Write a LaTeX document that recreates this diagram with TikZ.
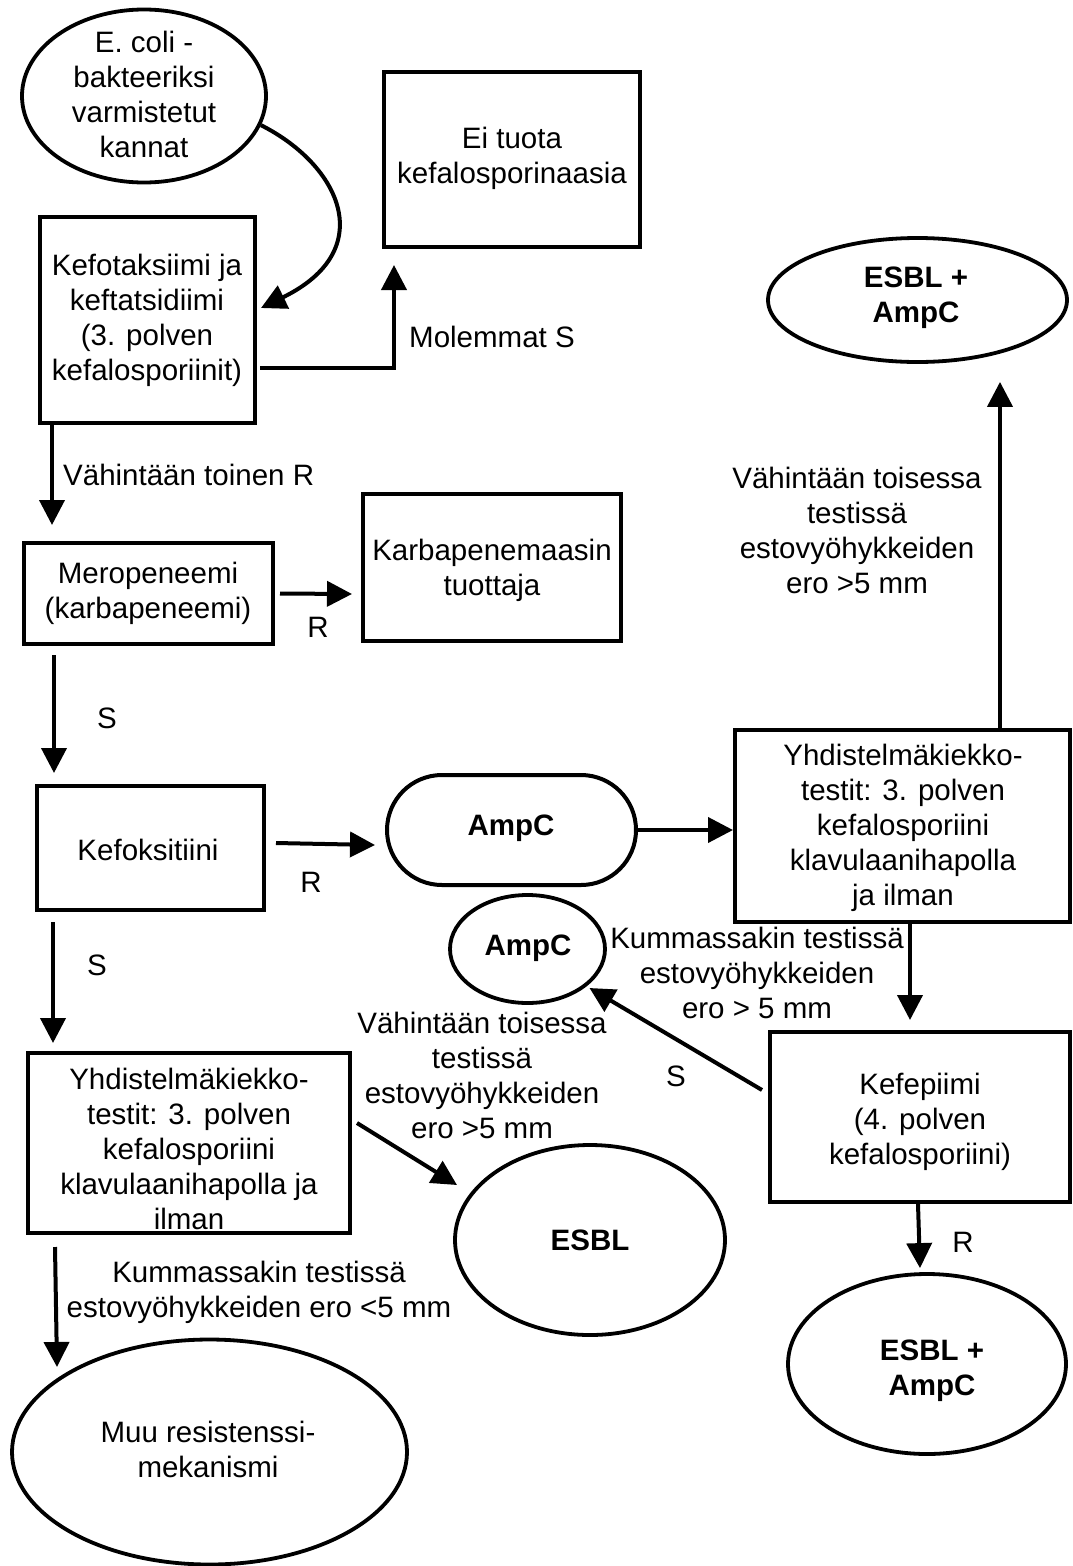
\documentclass[tikz,border=0pt]{standalone}
\usepackage{fontspec}
\setmainfont{Liberation Sans}
\usetikzlibrary{arrows.meta,shapes.geometric,calc}
\begin{document}
\begin{tikzpicture}[x=1pt,y=-1pt,
  box/.style={draw,line width=4pt,rectangle,inner sep=0pt},
  ell/.style={draw,line width=3.8pt,ellipse,inner sep=0pt},
  txt/.style={align=center,inner sep=0pt,font=\fontsize{29.5}{35}\selectfont},
  btxt/.style={align=center,inner sep=0pt,font=\fontsize{29.5}{35}\selectfont\bfseries},
  arr/.style={-{Triangle[length=25pt,width=25pt]},line width=4pt}]
\useasboundingbox (0,0) rectangle (1073,1566);
\fill[white] (0,0) rectangle (1073,1566);
% shapes
\node[ell,minimum width=244,minimum height=173] (ecoli) at (144,96) {};
\node[box,minimum width=215,minimum height=206] (kefo) at (147.5,320) {};
\node[box,minimum width=256,minimum height=175] (eituota) at (512,159.5) {};
\node[box,minimum width=249,minimum height=101] (mero) at (148.5,593.5) {};
\node[box,minimum width=258,minimum height=147] (karba) at (492,567.5) {};
\node[box,minimum width=227,minimum height=124] (kefox) at (150.5,848) {};
\node[box,rounded corners=55pt,minimum width=249,minimum height=110] (ampc1) at (511.5,830) {};
\node[box,minimum width=335,minimum height=192] (yhd2) at (902.5,826) {};
\node[ell,minimum width=299,minimum height=124] (esblampc1) at (917.5,300) {};
\node[ell,minimum width=155,minimum height=108] (ampc2) at (527.5,949) {};
\node[box,minimum width=300,minimum height=170] (kefe) at (920,1117) {};
\node[ell,minimum width=278,minimum height=180] (esblampc2) at (927,1364) {};
\node[box,minimum width=322,minimum height=180] (yhd1) at (189,1143) {};
\node[ell,minimum width=270,minimum height=190] (esbl) at (590,1240) {};
\node[ell,minimum width=395,minimum height=225] (muu) at (209.5,1452) {};
% texts
\node[txt] (ecoliT) at (144,94) {E. coli -\\bakteeriksi\\varmistetut\\kannat};
\node[txt] (kefoT) at (147,320) {Kefotaksiimi ja\\keftatsidiimi\\(3. polven\\kefalosporiinit)};
\node[txt] (eituotaT) at (512,158) {Ei tuota\\kefalosporinaasia};
\node[txt] (meroT) at (148,593) {Meropeneemi\\(karbapeneemi)};
\node[txt] (karbaT) at (492,570) {Karbapenemaasin\\tuottaja};
\node[txt] (kefoxT) at (148,850) {Kefoksitiini};
\node[btxt] (ampc1T) at (511,828) {AmpC};
\node[txt] (yhd2T) at (903,828) {Yhdistelmäkiekko-\\testit: 3. polven\\kefalosporiini\\klavulaanihapolla\\ja ilman};
\node[btxt] (esblampc1T) at (916,298) {ESBL +\\AmpC};
\node[btxt] (ampc2T) at (528,948) {AmpC};
\node[txt] (kefeT) at (920,1122) {Kefepiimi\\(4. polven\\kefalosporiini)};
\node[btxt] (esblampc2T) at (932,1371) {ESBL +\\AmpC};
\node[txt] (yhd1T) at (189,1149) {Yhdistelmäkiekko-\\testit: 3. polven\\kefalosporiini\\klavulaanihapolla ja\\ilman};
\node[btxt] (esblT) at (590,1240) {ESBL};
\node[txt] (muuT) at (208,1449) {Muu resistenssi-\\mekanismi};
% edge labels
\node[txt] (molT) at (492,337) {Molemmat S};
\node[txt,anchor=west] (vahT) at (63,475) {Vähintään toinen R};
\node[txt] (r1T) at (318,627) {R};
\node[txt] (s1T) at (107,718) {S};
\node[txt] (r2T) at (311,882) {R};
\node[txt] (lab8) at (857,530) {Vähintään toisessa\\testissä\\estovyöhykkeiden\\ero >5 mm};
\node[txt] (lab9) at (757,973) {Kummassakin testissä\\estovyöhykkeiden\\ero > 5 mm};
\node[txt] (s2T) at (676,1076) {S};
\node[txt] (r3T) at (963,1242) {R};
\node[txt] (s3T) at (97,965) {S};
\node[txt] (lab13) at (482,1075) {Vähintään toisessa\\testissä\\estovyöhykkeiden\\ero >5 mm};
\node[txt] (lab14) at (259,1292) {Kummassakin testissä\\estovyöhykkeiden ero <5 mm};
% connectors
\coordinate (c1) at ($(kefo.east)+(4,-12)$);
\draw[arr] (ecoli.-14) .. controls (340,165) and (380,250) .. (c1);
\draw[arr] ($(kefo.east)+(3,48)$) -| ($(eituota.south west)+(12,16)$);
\draw[arr] ($(kefo.south west)+(14,0)$) -- ($(mero.north west)+(30,-16)$);
\draw[arr] ($(mero.east)+(5,0)$) -- ($(karba.west)+(-9,26.5)$);
\draw[arr] ($(mero.south west)+(32,9)$) -- ($(kefox.north west)+(19,-11)$);
\draw[arr] ($(kefox.east)+(10,-5)$) -- ($(ampc1.west)+(-10,15)$);
\draw[arr] (ampc1.east) -- (ampc1.east -| yhd2.west);
\draw[arr] ($(yhd2.north)+(97.5,0)$) -- ($(esblampc1.south)+(82.5,18)$);
\draw[arr] ($(yhd2.south)+(7.5,0)$) -- ($(kefe.north)+(-10,-10)$);
\draw[arr] ($(kefe.west)+(-6,-27)$) -- ($(ampc2.center)+(62,39)$);
\draw[arr] ($(kefe.south)+(-2,0)$) -- ($(esblampc2.north)+(-7,-4)$);
\draw[arr] ($(kefox.south west)+(18,10)$) -- ($(yhd1.north west)+(27,-8)$);
\draw[arr] ($(yhd1.east)+(5,-20)$) -- ($(esbl.center)+(-133,-55)$);
\coordinate (c2) at ($(muu.center)+(-152.5,-85)$);
\draw[arr] ($(yhd1.south west)+(29,12)$) -- (c2);
\end{tikzpicture}
\end{document}
